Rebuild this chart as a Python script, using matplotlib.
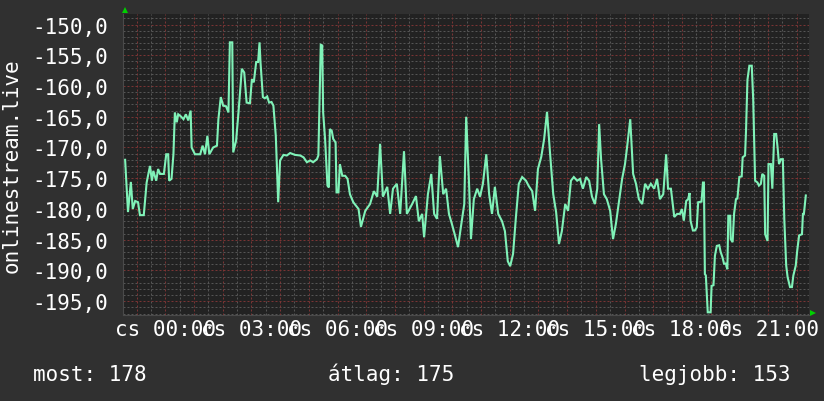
import matplotlib
matplotlib.use('Agg')
import matplotlib.pyplot as plt

# time in minutes relative to 00:00 (negative = previous evening), values
minutes = [-84, -78, -72, -68, -63, -57, -53, -45, -42, -39, -32, -28, -25, -19, -15, -11, -3,
           2, 6, 8, 13, 17, 20, 24, 27, 32, 38, 43, 48, 53, 55, 62, 73, 78, 83, 88, 92, 100, 108,
           111, 116, 121, 127, 132, 135, 140, 142, 148, 153, 160, 165, 167, 170, 177, 181, 185,
           190, 194, 197, 199, 204, 208, 213, 217, 222, 226, 231, 233, 236, 240, 247, 254, 261,
           271, 282, 289, 296, 303, 309, 317, 320, 325, 328, 330, 334, 339, 342, 344, 348, 351,
           356, 358, 362, 365, 370, 376, 381, 386, 393, 404,
           409, 418, 428, 436, 443, 449, 455, 464, 470, 476, 484, 491, 499, 505, 516, 524, 530,
           537, 541, 549, 556, 562, 568, 574, 581, 587, 593, 599, 606, 612, 618, 625, 629, 635,
           639, 645, 652, 658, 664, 671, 677, 683, 689, 696, 704, 710, 716, 721, 727, 733, 739,
           746, 754, 760, 767, 773, 779, 786, 792, 798, 804, 811, 817, 823, 829, 836, 842, 848,
           854, 861, 867, 873, 880, 886, 892, 898, 903, 907, 911, 917, 923, 930, 936, 942, 949,
           955, 961, 965, 972, 978, 984, 990, 997, 1003, 1009, 1015, 1022, 1028, 1034, 1041,
           1047, 1051, 1057, 1064, 1070,
           1076, 1080, 1084, 1089, 1093, 1096, 1098, 1103, 1107, 1111, 1114, 1121, 1124, 1126,
           1128, 1130, 1134, 1140, 1142, 1146, 1149, 1153, 1158, 1161, 1165, 1168, 1172, 1175,
           1177, 1181, 1182, 1186, 1189, 1193, 1196, 1200, 1205, 1207, 1212, 1214, 1217, 1221,
           1226, 1229, 1233, 1238, 1241, 1245, 1248, 1252, 1254, 1259, 1261, 1266, 1269, 1273,
           1277, 1280, 1283, 1287, 1291, 1294, 1298, 1301, 1306, 1310, 1313, 1318, 1321, 1325,
           1331, 1333, 1335, 1339]
values = [-172.0, -180.5, -175.6, -180.0, -178.7, -178.9, -181.0, -181.0, -178.4, -175.7, -173.0,
          -175.4, -173.8, -175.4, -173.5, -174.3, -174.3,
          -171.1, -171.1, -175.4, -175.1, -171.1, -164.3, -165.9, -164.6, -164.9, -165.4, -164.6,
          -165.6, -164.0, -170.0, -171.1, -171.1, -169.7, -171.1, -168.1, -171.1, -170.0, -169.7,
          -165.4, -161.8, -163.2, -163.3, -164.3, -152.9, -152.9, -170.8, -168.9, -164.3, -157.2,
          -157.8, -159.7, -162.7, -162.8, -158.9, -159.4,
          -156.1, -156.1, -152.9, -156.1, -161.8, -162.0, -161.7, -162.7, -162.6, -163.2, -168.1,
          -172.4, -178.9, -172.1, -171.2, -171.3, -170.9,
          -171.2, -171.3, -171.6, -172.4, -172.1, -172.4, -171.9, -171.3, -153.3, -153.4, -164.3,
          -168.6, -176.2, -176.5, -167.0, -167.3, -168.6,
          -169.2, -177.3, -177.3, -172.7, -174.6, -174.6, -175.1, -177.6, -178.9, -180.0,
          -182.9, -180.3, -179.2, -177.1, -178.0, -169.4, -178.0, -176.4, -180.8, -176.7, -175.9,
          -180.8, -170.6, -180.8, -179.2, -177.9, -182.0,
          -180.8, -184.6, -177.6, -174.3, -180.8, -181.6, -171.4, -177.6, -176.7, -180.8, -182.4,
          -184.4, -186.2, -182.9, -179.2, -165.0, -175.9,
          -184.9, -178.4, -176.7, -178.0, -175.9, -171.1, -177.6, -180.8, -176.4, -180.8, -182.0,
          -183.6, -188.5, -189.3, -187.3, -181.3, -175.9,
          -174.8, -175.4, -176.3, -177.1, -180.3, -173.5, -171.5, -168.6, -164.2, -170.6, -177.6,
          -180.5, -185.7, -183.6, -179.2, -180.3, -175.4,
          -174.8, -175.4, -175.1, -176.7, -174.8, -175.4, -178.0, -179.2, -176.7, -166.2, -171.9,
          -177.6, -178.4, -180.3, -184.9, -182.4, -178.4,
          -175.1, -172.7, -170.2, -165.4, -174.3, -175.9, -178.4, -179.2, -175.9, -176.7, -175.9,
          -176.7, -175.1, -178.4, -177.6,
          -171.1, -176.7, -176.7, -181.3, -180.8,
          -180.8, -180.0, -181.9, -178.7, -178.4, -177.4, -181.9, -183.5, -183.5, -183.0, -178.9,
          -178.8, -175.7, -175.7,
          -190.6, -190.8, -196.8, -196.8, -192.5, -192.4, -187.6, -186.0, -185.9, -187.0, -187.9,
          -188.9, -188.9, -189.8,
          -181.1, -181.1, -184.9, -185.4, -180.8, -178.4, -178.3, -174.8, -174.7, -171.6, -171.3,
          -167.3, -159.0, -156.7,
          -156.7, -162.1, -175.4, -175.7, -176.2, -175.9, -174.3, -174.6, -184.1, -185.2, -172.7,
          -172.7, -176.7, -167.8,
          -167.8, -170.0, -172.7, -171.9, -171.9, -181.6, -189.2, -191.1, -192.7, -192.7, -190.8,
          -189.2, -186.8, -184.3,
          -184.1, -180.8, -180.8, -177.8]

tick_minutes = [0, 180, 360, 540, 720, 900, 1080, 1260]
tick_labels = ['cs 00:00', 'cs 03:00', 'cs 06:00', 'cs 09:00', 'cs 12:00', 'cs 15:00',
               'cs 18:00', 'cs 21:00']
y_ticks = [-150, -155, -160, -165, -170, -175, -180, -185, -190, -195]
y_labels = ['-150,0', '-155,0', '-160,0', '-165,0', '-170,0', '-175,0', '-180,0', '-185,0',
            '-190,0', '-195,0']
ylabel_text = 'onlinestream.live'
footer_texts = ['most: 178', 'átlag: 175', 'legjobb: 153']

X_MIN, X_MAX = -87.8, 1346.3
Y_MIN, Y_MAX = -197.24, -148.29

BG = '#303030'
PLOT_BG = '#222222'
MINOR = '#555555'
MAJOR = '#7a3434'
LINE = '#80f2b8'
FONT = 'DejaVu Sans Mono'

W, H = 824, 402
fig = plt.figure(figsize=(W / 100, H / 100), dpi=100, facecolor=BG)
ax = fig.add_axes([123.3 / W, 1 - 316 / H, (809.3 - 123.3) / W, (316 - 15) / H])
ax.set_facecolor(PLOT_BG)
ax.set_xlim(X_MIN, X_MAX)
ax.set_ylim(Y_MIN, Y_MAX)

dots = (0, (2, 2))
# horizontal grid
for v in range(-197, -148):
    if v % 5 != 0:
        ax.axhline(v, color=MINOR, lw=0.72, ls=dots, zorder=1)
for v in range(-195, -148, 5):
    ax.axhline(v, color=MAJOR, lw=0.72, ls=dots, zorder=1.5)
# vertical grid
for m in range(-30, 1350, 60):
    ax.axvline(m, color=MINOR, lw=0.72, ls=dots, zorder=1)
for m in range(-60, 1350, 60):
    ax.axvline(m, color=MAJOR, lw=0.72, ls=dots, zorder=1.5)

ax.plot(minutes, values, color=LINE, lw=1.5, zorder=3, solid_joinstyle='miter')

for s in ['top', 'right']:
    ax.spines[s].set_visible(False)
for s in ['left', 'bottom']:
    ax.spines[s].set_color('#4a4a4a')
    ax.spines[s].set_linewidth(0.8)

ax.set_xticks(tick_minutes, tick_labels)
ax.set_yticks(y_ticks, y_labels)
ax.tick_params(axis='both', length=0, colors='white', labelsize=15)
ax.tick_params(axis='x', pad=3)
ax.tick_params(axis='y', pad=11)
for lab in ax.get_xticklabels() + ax.get_yticklabels():
    lab.set_fontfamily(FONT)
    lab.set_color('white')

# arrows
ax.plot([0.002], [1.014], marker='^', color='#00d000', markersize=5, transform=ax.transAxes,
        clip_on=False, zorder=5, markeredgewidth=0)
ax.plot([1.006], [0.006], marker='>', color='#00d000', markersize=5, transform=ax.transAxes,
        clip_on=False, zorder=5, markeredgewidth=0)

fig.text(12 / W, 1 - 166 / H, ylabel_text, rotation=90, ha='center', va='center',
         color='white', fontsize=15, fontfamily=FONT)

fig.text(32.7 / W, 1 - 381 / H, footer_texts[0], ha='left', va='baseline', color='white',
         fontsize=15, fontfamily=FONT)
fig.text(328.3 / W, 1 - 381 / H, footer_texts[1], ha='left', va='baseline', color='white',
         fontsize=15, fontfamily=FONT)
fig.text(790.7 / W, 1 - 381 / H, footer_texts[2], ha='right', va='baseline', color='white',
         fontsize=15, fontfamily=FONT)

fig.savefig('out.png', dpi=100, facecolor=BG)
